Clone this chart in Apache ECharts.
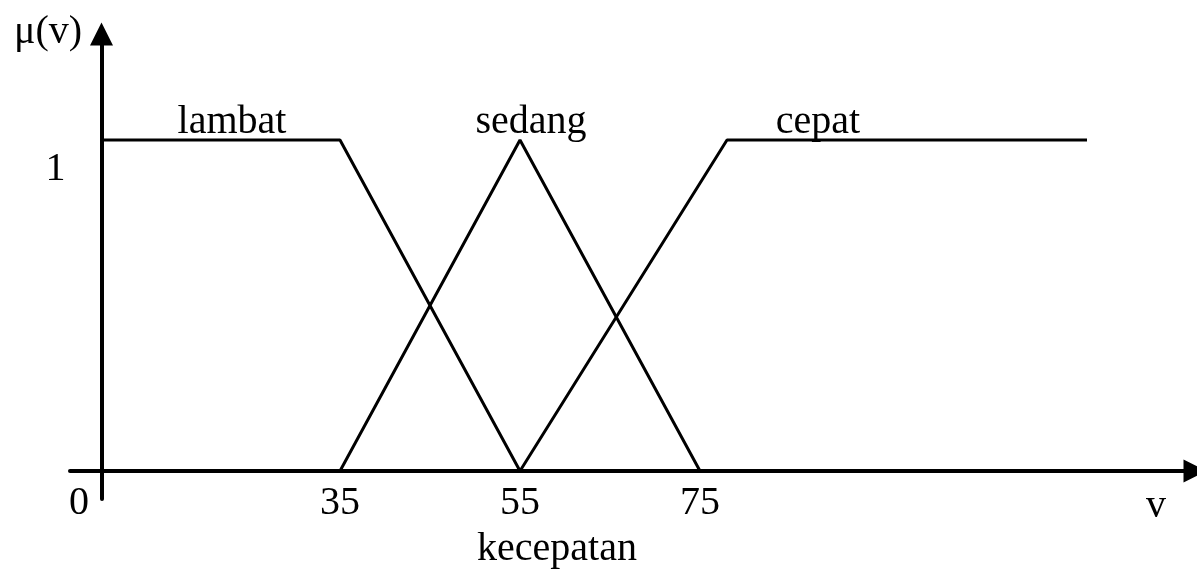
<!DOCTYPE html>
<html>
<head>
<meta charset="utf-8">
<title>kecepatan</title>
<script src="https://cdn.jsdelivr.net/npm/echarts@6/dist/echarts.min.js"></script>
<style>
  html, body { margin: 0; padding: 0; background: #fff; }
  #fuzzy { width: 1197px; height: 569px; }
</style>
</head>
<body>
<div id="fuzzy"></div>
<script>
// nama himpunan fuzzy
const setNames = ['lambat', 'sedang', 'cepat'];
// titik sudut tiap fungsi keanggotaan [kecepatan, derajat keanggotaan]
const lambatPts = [[0, 1], [35, 1], [55, 0]];
const sedangPts = [[35, 0], [55, 1], [75, 0]];
const cepatPts = [[55, 0], [78, 1], [118, 1]];
// label sumbu
const speedTicks = [35, 55, 75];
const muTicks = [1];

const font = 'Liberation Serif, Times New Roman, serif';
const black = '#000';

// teks bebas (nama himpunan, judul sumbu)
function txt(s, x, y) {
    return {
        type: 'text', x: x, y: y, silent: true,
        style: {
            text: s, fill: black, font: '40px ' + font,
            textAlign: 'center', textVerticalAlign: 'middle',
            align: 'center', verticalAlign: 'middle'
        }
    };
}

const chart = echarts.init(document.getElementById('fuzzy'));
const setData = [lambatPts, sedangPts, cepatPts];

chart.setOption({
    animation: false,
    backgroundColor: '#fff',
    // grid 0 = sumbu yang terlihat, grid 1 = tempat kurva (dipotong di sumbu y)
    grid: [
        { left: 70, right: 2, top: 34, bottom: 70 },
        { left: 101.5, right: 2, top: 34, bottom: 98 }
    ],
    xAxis: [{
        gridIndex: 0, type: 'value', min: 5, max: 130, offset: -28,
        splitLine: { show: false },
        axisTick: { show: false },
        axisLine: {
            onZero: false, symbol: ['none', 'triangle'], symbolSize: [23, 23],
            lineStyle: { color: black, width: 4 }
        },
        axisLabel: {
            customValues: speedTicks, margin: 12,
            color: black, fontFamily: font, fontSize: 40, lineHeight: 40
        }
    }, {
        gridIndex: 1, type: 'value', min: 8.5, max: 130, show: false
    }],
    yAxis: [{
        gridIndex: 0, type: 'value', min: -0.085, max: 1.32, offset: -31.5,
        splitLine: { show: false },
        axisTick: { show: false },
        axisLine: {
            onZero: false, symbol: ['none', 'triangle'], symbolSize: [23, 23],
            lineStyle: { color: black, width: 4 }
        },
        axisLabel: {
            customValues: muTicks, margin: 36, verticalAlign: 'top',
            color: black, fontFamily: font, fontSize: 40, lineHeight: 60
        }
    }, {
        gridIndex: 1, type: 'value', min: 0, max: 1.32, show: false
    }],
    series: setNames.map((n, i) => ({
        name: n,
        type: 'line',
        xAxisIndex: 1,
        yAxisIndex: 1,
        clip: true,
        symbol: 'none',
        lineStyle: { color: black, width: 3 },
        data: setData[i]
    })),
    graphic: [
        txt('μ(v)', 48, 32),
        txt('0', 79, 503),
        txt('v', 1156, 506),
        txt('kecepatan', 557, 549),
        txt(setNames[0], 232, 122),
        txt(setNames[1], 531, 122),
        txt(setNames[2], 818, 122)
    ]
});
</script>
</body>
</html>
